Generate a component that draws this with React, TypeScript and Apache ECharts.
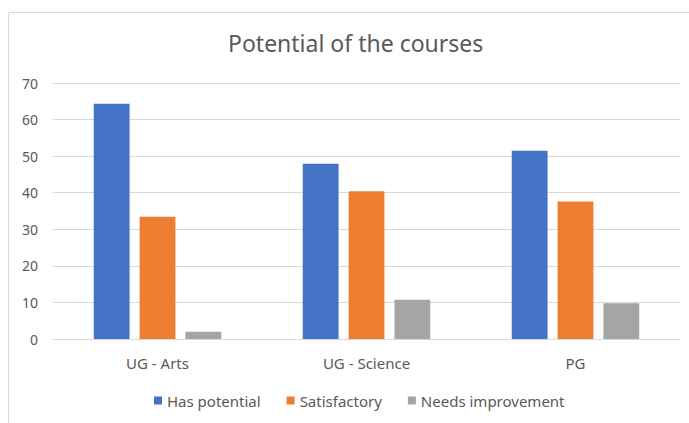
import React, { useEffect, useRef } from "react";
import * as echarts from "echarts";

const categories = ["UG - Arts", "UG - Science", "PG"];
const hasPotential = [64.3, 47.9, 51.5];
const satisfactory = [33.4, 40.4, 37.6];
const needsImprovement = [2.0, 10.7, 9.8];
const seriesNames = ["Has potential", "Satisfactory", "Needs improvement"];
const colors = ["#4472C4", "#ED7D31", "#A5A5A5"];

export default function App() {
  const ref = useRef<HTMLDivElement>(null);
  useEffect(() => {
    if (!ref.current) return;
    const chart = echarts.init(ref.current, null, { renderer: "svg" });
    const font = "'Noto Sans', sans-serif";
    const values = [hasPotential, satisfactory, needsImprovement];
    chart.setOption({
      animation: false,
      backgroundColor: "#ffffff",
      graphic: [
        {
          type: "rect",
          shape: { x: 8.5, y: 12.5, width: 700, height: 430 },
          style: { fill: "none", stroke: "#D9D9D9", lineWidth: 1 },
          silent: true,
        },
      ],
      title: {
        text: "Potential of the courses",
        left: 223,
        top: 26,
        textStyle: { fontFamily: font, fontSize: 23, fontWeight: "normal", color: "#595959" },
      },
      legend: {
        bottom: 10,
        left: 149,
        itemWidth: 8,
        itemHeight: 8,
        itemGap: 26,
        icon: "rect",
        textStyle: { fontFamily: font, fontSize: 15, color: "#595959" },
        data: seriesNames,
      },
      grid: { left: 53, right: 9, top: 83, bottom: 84, containLabel: false },
      xAxis: {
        type: "category",
        data: categories,
        axisLine: { lineStyle: { color: "#D9D9D9" } },
        axisTick: { show: false },
        axisLabel: { fontFamily: font, fontSize: 15, color: "#595959", margin: 16 },
      },
      yAxis: {
        type: "value",
        min: 0,
        max: 70,
        interval: 10,
        axisLine: { show: false },
        axisTick: { show: false },
        splitLine: { lineStyle: { color: "#D9D9D9" } },
        axisLabel: { fontFamily: font, fontSize: 14, color: "#595959", margin: 15 },
      },
      series: seriesNames.map((name, i) => ({
        name,
        type: "bar",
        data: values[i],
        itemStyle: { color: colors[i] },
        barGap: "28%",
        barCategoryGap: "39%",
      })),
    });
    return () => chart.dispose();
  }, []);
  return (
    <div
      ref={ref}
      style={{ position: "absolute", left: 0, top: 0, width: 689, height: 423 }}
    />
  );
}
